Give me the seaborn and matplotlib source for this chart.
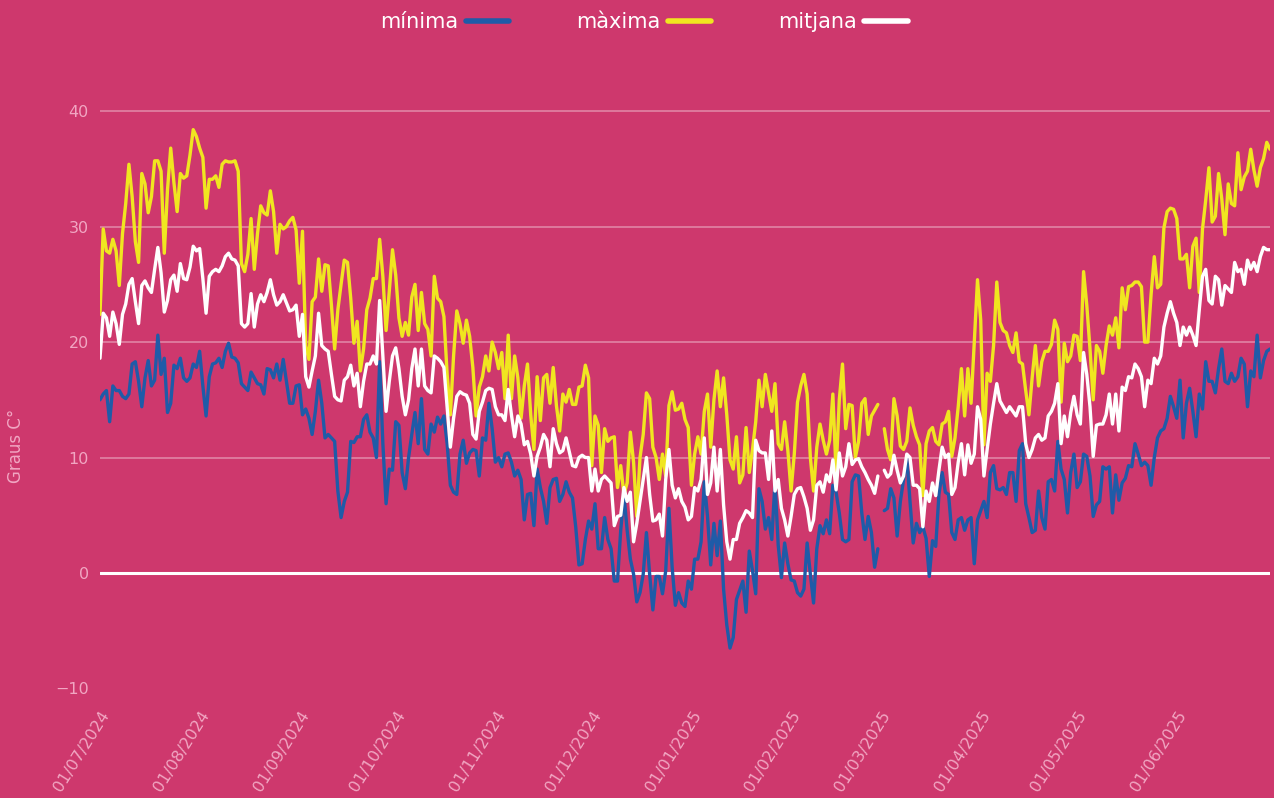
import numpy as np
import pandas as pd
import matplotlib
matplotlib.use("Agg")
import matplotlib.pyplot as plt
import matplotlib.dates as mdates
from matplotlib.lines import Line2D
import seaborn as sns

# ---------------- data (daily values, 01/07/2024 .. 30/06/2025) ----------------
start_date = "2024-07-01"
end_date = "2025-06-30"

tmax = [
    22.4, 29.8, 27.9, 27.7, 28.9, 27.9, 24.9, 29.4, 32.0, 35.4, 32.6, 28.7, 26.9, 34.6, 33.7, 31.2,
    32.6, 35.7, 35.7, 34.8, 27.7, 33.2, 36.8, 33.8, 31.3, 34.6, 34.2, 34.4, 36.2, 38.4, 37.8, 36.8,
    36.0, 31.6, 34.1, 34.1, 34.4, 33.4, 35.4, 35.7, 35.6, 35.6, 35.7, 34.8, 26.8, 26.1, 27.6, 30.7,
    26.3, 29.4, 31.8, 31.2, 31.0, 33.1, 31.3, 27.7, 30.2, 29.8, 30.0, 30.5, 30.8, 29.7, 25.1,
    29.6, 19.7, 18.5, 23.5, 23.9, 27.2, 24.4, 26.7, 26.6, 23.2, 19.4, 22.8, 25.0, 27.1, 26.9, 23.8,
    19.9, 21.8, 17.5, 19.4, 22.8, 23.8, 25.5, 25.5, 28.9, 25.7, 21.0, 24.4, 28.0, 25.8, 22.1, 20.5,
    21.7, 20.6, 23.9, 25.0, 21.0, 24.3, 21.6, 21.1, 18.8, 25.7, 23.8, 23.5, 22.2, 17.2, 13.7, 18.8,
    22.7, 21.6, 19.9, 21.9, 20.5, 17.8, 13.6, 16.1, 17.0, 18.8, 17.5, 20.0, 19.1, 17.7, 19.1,
    15.1, 20.6, 15.1, 18.8, 16.9, 13.4, 16.2, 18.1, 13.7, 10.7, 17.0, 13.2, 16.9, 17.2, 14.7, 17.8,
    14.5, 12.3, 15.5, 14.8, 15.9, 14.6, 14.6, 16.1, 16.2, 18.0, 16.9, 9.3, 13.6, 12.8, 8.7,
    12.5, 11.4, 11.7, 11.8, 7.4, 9.3, 6.8, 7.8, 12.2, 9.6, 4.9, 10.0, 12.0, 15.6, 15.1, 10.9,
    10.0, 8.1, 10.3, 8.4, 14.5, 15.7, 14.1, 14.2, 14.7, 13.3, 12.6, 7.6, 10.3, 11.8, 10.3,
    14.0, 15.5, 10.9, 15.0, 17.5, 14.4, 16.9, 13.7, 9.8, 9.0, 11.8, 7.8, 8.5, 12.6, 8.7, 10.7,
    13.1, 16.7, 14.4, 17.2, 15.6, 14.0, 16.4, 11.2, 10.7, 13.1, 10.6, 7.1, 10.3, 14.8, 16.2,
    17.2, 15.5, 10.0, 7.1, 10.9, 12.9, 11.5, 10.3, 11.5, 15.5, 8.7, 15.0, 18.1, 12.5, 14.6, 14.5,
    10.0, 11.4, 14.7, 15.1, 12.0, 13.6, 14.1, 14.6,
    None,
    12.5, 10.7, 9.8, 15.1,
    13.6, 11.0, 10.7, 11.4, 14.3, 12.8, 11.8, 11.1, 6.7, 11.2, 12.3, 12.6, 11.4, 11.1, 12.9, 13.1,
    14.0, 10.1, 11.7, 14.4, 17.7, 13.6, 17.7, 14.7, 20.0, 25.4, 21.9, 11.1, 17.3, 16.6, 19.7, 25.2, 21.7,
    21.0, 20.8, 19.7, 19.1, 20.8, 18.3, 18.1, 15.8, 13.7, 16.9, 19.7, 16.2, 18.3, 19.2, 19.2, 19.8,
    21.9, 21.1, 14.8, 19.9, 18.3, 18.8, 20.6, 20.5, 18.4, 26.1, 23.2, 19.4, 15.0, 19.7, 19.2,
    17.3, 19.7, 21.4, 20.6, 22.1, 19.5, 24.7, 22.8, 24.8, 24.9, 25.2, 25.2, 24.8, 20.0, 20.0, 24.1,
    27.4, 24.7, 25.0, 29.9, 31.3,
    31.6, 31.5, 30.7, 27.2, 27.2, 27.6, 24.7, 28.3, 29.0, 24.3, 29.8, 32.3, 35.1, 30.4, 30.9, 34.6,
    32.4, 29.3, 33.7, 32.0, 31.8, 36.4, 33.2, 34.3, 34.8, 36.7, 34.9, 33.5, 35.1, 35.9, 37.3, 36.7,
]

tmean = [
    18.6, 22.5, 22.1, 20.5, 22.6, 21.6, 19.8, 22.4, 23.3, 25.0, 25.5, 23.5, 21.6, 24.9, 25.3, 24.7,
    24.3, 26.3, 28.2, 26.0, 22.6, 23.6, 25.4, 25.8, 24.4, 26.8, 25.5, 25.4, 26.5, 28.3, 27.9, 28.1,
    25.5, 22.5, 25.7, 26.1, 26.3, 26.1, 26.6, 27.4, 27.7, 27.2, 27.1, 26.6, 21.6, 21.3, 21.6, 24.2,
    21.3, 23.3, 24.1, 23.5, 24.3, 25.4, 24.1, 23.2, 23.5, 24.1, 23.4, 22.7, 22.8, 23.2, 20.5,
    22.4, 17.0, 16.1, 17.5, 18.8, 22.5, 19.7, 19.4, 19.2, 17.2, 15.3, 15.0, 14.9, 16.7, 17.0, 18.0,
    16.2, 17.3, 14.4, 16.6, 18.1, 18.1, 18.8, 18.1, 23.6, 18.8, 14.0, 16.6, 18.8, 19.5, 17.7, 15.3,
    13.7, 15.0, 17.7, 19.4, 16.2, 19.4, 16.2, 15.8, 15.6, 18.8, 18.6, 18.3, 17.8, 14.4, 10.9, 13.4,
    15.3, 15.7, 15.5, 15.4, 14.7, 12.0, 11.6, 14.0, 14.8, 15.8, 16.0, 15.9, 14.4, 13.7, 13.7,
    13.2, 15.9, 13.7, 11.8, 13.6, 12.9, 11.1, 11.4, 10.3, 8.4, 10.1, 10.9, 12.0, 11.5, 9.2, 12.5,
    11.2, 10.4, 10.6, 11.7, 10.5, 9.3, 9.2, 10.0, 10.2, 10.0, 10.0, 7.1, 9.0, 7.1, 8.1,
    8.4, 8.1, 7.8, 4.1, 4.9, 5.0, 7.4, 6.2, 7.0, 2.7, 4.3, 6.2, 8.1, 10.0, 6.8, 4.5,
    4.6, 5.1, 3.2, 8.1, 10.7, 7.6, 6.5, 7.3, 6.2, 5.7, 4.6, 4.9, 7.4, 7.1, 8.1,
    11.7, 6.8, 7.8, 10.9, 7.1, 10.7, 5.9, 2.7, 1.2, 2.9, 2.9, 4.3, 4.8, 5.4, 5.2, 4.8,
    11.5, 10.6, 10.4, 10.4, 8.1, 12.3, 7.1, 8.1, 5.6, 4.6, 3.2, 4.9, 6.8, 7.3, 7.4,
    6.6, 5.6, 3.7, 4.6, 7.6, 7.9, 7.0, 8.5, 7.9, 9.8, 7.2, 10.4, 8.4, 9.2, 11.2, 9.4,
    9.8, 9.9, 9.2, 8.7, 8.1, 7.6, 6.9, 8.4,
    None,
    8.9, 8.3, 8.6, 10.2,
    8.9, 7.8, 8.4, 10.3, 10.0, 7.6, 7.6, 7.3, 4.0, 7.1, 6.2, 7.8, 6.7, 8.9, 10.9, 10.0,
    10.3, 6.8, 7.4, 9.6, 11.2, 8.5, 11.1, 9.5, 10.3, 14.4, 13.3, 8.4, 10.7, 12.9, 14.7, 16.4, 14.9,
    14.4, 13.9, 14.4, 14.0, 13.6, 14.4, 14.4, 11.2, 10.0, 10.7, 11.7, 12.0, 11.5, 11.7, 13.6, 14.0,
    14.7, 16.4, 11.2, 13.6, 11.8, 13.9, 15.3, 13.7, 12.9, 19.1, 17.2, 14.4, 10.1, 12.8, 12.9,
    12.9, 13.7, 15.5, 12.9, 15.5, 12.3, 16.1, 15.8, 17.0, 16.9, 18.1, 17.7, 17.0, 14.4, 16.7, 16.4,
    18.6, 18.1, 18.8, 21.3, 22.5,
    23.5, 22.5, 21.7, 19.7, 21.3, 20.6, 21.3, 20.6, 19.7, 22.8, 25.7, 26.3, 23.6, 23.3, 25.7, 25.4,
    23.2, 24.9, 24.6, 24.3, 26.9, 26.1, 26.3, 25.0, 27.1, 26.3, 26.9, 26.1, 27.4, 28.2, 28.0, 28.0,
]

tmin = [
    15.0, 15.5, 15.8, 13.1, 16.2, 15.8, 15.8, 15.3, 15.1, 15.5, 18.1, 18.3, 16.6, 14.4, 16.9, 18.4,
    16.2, 16.7, 20.6, 17.2, 18.6, 13.9, 14.7, 18.0, 17.7, 18.6, 16.9, 16.6, 16.9, 18.1, 17.8, 19.2,
    16.2, 13.6, 17.0, 18.1, 18.2, 18.6, 17.8, 19.2, 19.9, 18.7, 18.6, 18.2, 16.4, 16.1, 15.8, 17.4,
    16.9, 16.4, 16.3, 15.5, 17.7, 17.6, 16.9, 18.1, 16.7, 18.5, 16.6, 14.7, 14.7, 16.2, 16.3,
    13.7, 14.2, 13.4, 12.0, 14.0, 16.7, 14.7, 11.7, 12.0, 11.7, 11.4, 7.1, 4.8, 6.2, 7.0, 11.4,
    11.3, 11.8, 11.8, 13.3, 13.7, 12.2, 11.7, 10.0, 18.3, 11.2, 6.0, 9.0, 8.9, 13.1, 12.8, 8.7,
    7.3, 10.0, 12.0, 13.9, 11.2, 15.1, 10.7, 10.3, 12.9, 12.2, 13.5, 12.9, 13.6, 11.2, 7.6, 7.0,
    6.8, 10.3, 11.5, 9.5, 10.4, 10.7, 10.6, 8.4, 11.7, 11.5, 14.7, 12.5, 9.6, 10.0, 9.2,
    10.3, 10.4, 9.6, 8.4, 8.9, 8.1, 4.6, 6.8, 6.9, 4.1, 9.0, 7.4, 6.2, 4.3, 7.4, 8.1,
    8.2, 6.2, 6.8, 7.9, 7.0, 6.5, 4.0, 0.7, 0.8, 2.9, 4.5, 3.8, 6.0, 2.1, 2.1,
    4.8, 2.9, 2.1, -0.7, -0.7, 3.7, 6.8, 3.7, 1.2, -0.1, -2.5, -1.7, -0.1, 3.5, -0.1, -3.2,
    -0.3, -0.3, -1.8, 0.2, 5.6, 0.5, -2.8, -1.7, -2.6, -2.9, -0.7, -1.4, 1.2, 1.2, 2.7,
    7.9, 4.9, 0.7, 4.3, 1.5, 4.5, -1.4, -4.5, -6.5, -5.6, -2.3, -1.5, -0.7, -3.4, 1.9, 0.2,
    -1.8, 7.3, 6.2, 3.8, 4.8, 2.9, 7.9, 2.4, -0.4, 2.6, 0.8, -0.6, -0.7, -1.7, -2.0,
    -1.4, 2.6, -0.1, -2.6, 2.1, 4.1, 3.4, 4.6, 3.4, 7.6, 7.0, 5.2, 2.9, 2.7, 2.9, 7.9,
    8.5, 8.4, 5.2, 2.9, 4.9, 3.5, 0.5, 2.1,
    None,
    5.4, 5.6, 7.3, 6.5,
    3.2, 6.2, 8.1, 10.0, 6.2, 2.6, 4.3, 3.5, 4.0, 3.0, -0.3, 2.8, 2.3, 6.8, 8.7, 7.0,
    6.8, 3.5, 2.9, 4.6, 4.8, 3.7, 4.6, 4.8, 0.8, 4.6, 5.4, 6.2, 4.8, 8.7, 9.3, 7.3, 7.2,
    7.4, 6.8, 8.7, 8.7, 6.2, 10.6, 11.2, 6.0, 4.8, 3.5, 3.7, 7.1, 4.8, 3.8, 7.9, 8.1,
    7.1, 11.4, 9.0, 8.1, 5.2, 8.7, 10.3, 7.4, 7.9, 10.3, 10.1, 8.4, 4.9, 5.9, 6.2,
    9.2, 9.0, 9.2, 5.2, 8.5, 6.3, 7.8, 8.2, 9.3, 9.2, 11.2, 10.3, 9.3, 9.6, 9.3, 7.6,
    10.0, 11.7, 12.3, 12.5, 13.4,
    15.3, 14.4, 13.4, 16.7, 11.7, 14.7, 16.0, 14.0, 11.8, 15.5, 14.2, 18.3, 16.6, 16.6, 15.6, 17.7,
    19.4, 16.6, 16.4, 17.3, 16.6, 17.0, 18.6, 18.1, 14.4, 17.5, 17.0, 20.6, 16.9, 18.4, 19.2, 19.4,
]

series_labels = ["mínima", "màxima", "mitjana"]
y_ticks = [-10, 0, 10, 20, 30, 40]
y_label = "Graus C°"

# ---------------- styling ----------------
BG = "#CE386D"
BLUE = "#1F5BA8"
YELLOW = "#F0E620"
WHITE = "#FFFFFF"
TICKC = "#F1A6C2"

dates = pd.date_range(start_date, end_date, freq="D")
n = len(dates)


def fit(a):
    a = list(a)[:n]
    return a + [None] * (n - len(a))


df = pd.DataFrame({
    "data": dates,
    "minima": pd.to_numeric(pd.Series(fit(tmin)), errors="coerce"),
    "maxima": pd.to_numeric(pd.Series(fit(tmax)), errors="coerce"),
    "mitjana": pd.to_numeric(pd.Series(fit(tmean)), errors="coerce"),
})

sns.set_theme(style="white")
plt.rcParams["font.family"] = ["DejaVu Sans"]

fig = plt.figure(figsize=(12.74, 7.98), dpi=100, facecolor=BG)
ax = fig.add_axes([100 / 1274, 98 / 798, 1170 / 1274, 605 / 798])
ax.set_facecolor(BG)

cols = [("minima", BLUE), ("maxima", YELLOW), ("mitjana", WHITE)]
for col, c in cols:
    sub = df[["data", col]].copy()
    sub["seg"] = sub[col].isna().cumsum()
    sub = sub.dropna()
    sns.lineplot(data=sub, x="data", y=col, units="seg", estimator=None,
                 color=c, lw=2.4, ax=ax, legend=False, zorder=3)

ax.set_xlim(dates[0], dates[-1])
ax.set_ylim(-11, 41.4)
ax.set_yticks(y_ticks)
ax.set_yticklabels([("\u2212" + str(abs(v))) if v < 0 else str(v) for v in y_ticks])
ax.grid(axis="y", color="white", alpha=0.35, lw=1.3, zorder=1)
ax.grid(axis="x", visible=False)
for tick_val, gl in zip(y_ticks, ax.get_ygridlines()):
    if tick_val <= 0:
        gl.set_visible(False)
ax.axhline(0, color="white", lw=2.2, zorder=2)

ax.xaxis.set_major_locator(mdates.MonthLocator(bymonthday=1))
ax.xaxis.set_major_formatter(mdates.DateFormatter("%d/%m/%Y"))
for lab in ax.get_xticklabels():
    lab.set_rotation(58)
    lab.set_ha("right")
    lab.set_rotation_mode("anchor")
ax.tick_params(axis="both", length=0, colors=TICKC, labelsize=11.5)
ax.tick_params(axis="x", pad=6)
ax.tick_params(axis="y", pad=8)

for s in ax.spines.values():
    s.set_visible(False)

ax.set_xlabel("")
ax.set_ylabel(y_label, color=TICKC, fontsize=12)
ax.yaxis.set_label_coords(-0.064, 0.42)

handles = [Line2D([], [], color=c, lw=4) for _, c in cols]
fig.legend(handles, series_labels, ncol=3, loc="center",
           bbox_to_anchor=(644 / 1274, 1 - 22 / 798), frameon=False,
           markerfirst=False, fontsize=15, labelcolor="white",
           handlelength=2.1, handletextpad=0.35, columnspacing=3.2)

fig.savefig("out.png", dpi=100, facecolor=BG)
